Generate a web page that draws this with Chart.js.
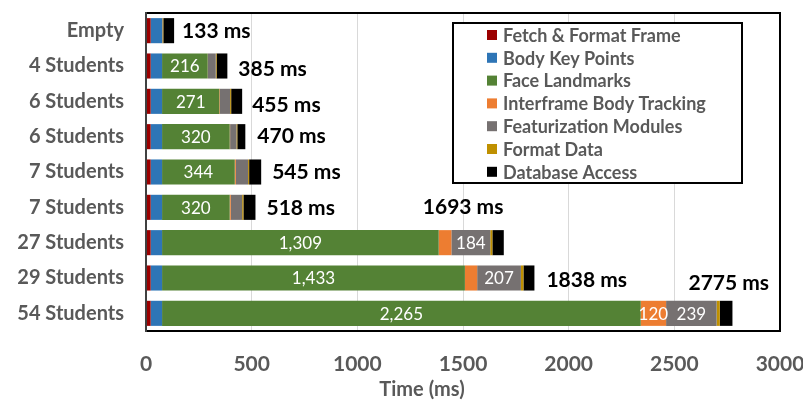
<!DOCTYPE html>
<html>
<head>
<meta charset="utf-8">
<script src="https://cdn.jsdelivr.net/npm/chart.js@4.4.1/dist/chart.umd.min.js"></script>
<style>
  html, body { margin: 0; padding: 0; background: #fff; }
  #wrap { width: 803px; height: 405px; position: relative; }
</style>
</head>
<body>
<div id="wrap"><canvas id="grafico"></canvas></div>
<script>
// Dados (ms)
const categories = ['Empty', '4 Students', '6 Students', '6 Students', '7 Students', '7 Students', '27 Students', '29 Students', '54 Students'];
const fetchFormat = [22, 22, 22, 22, 22, 22, 22, 22, 22];
const bodyKeyPoints = [54, 54, 54, 54, 54, 54, 54, 54, 54];
const faceLandmarks = [0, 216, 271, 320, 344, 320, 1309, 1433, 2265];
const interframe = [0, 1, 3, 2, 5, 5, 60, 58, 120];
const featurization = [2, 37, 48, 30, 58, 54, 184, 207, 239];
const formatData = [4, 4, 5, 4, 5, 6, 10, 12, 15];
const databaseAccess = [51, 51, 52, 38, 57, 57, 54, 52, 60];
const totals = [133, 385, 455, 470, 545, 518, 1693, 1838, 2775];
const xTicks = [0, 500, 1000, 1500, 2000, 2500, 3000];

// posição dos rótulos de total (px, relativo ao fim da barra / centro)
const totalLabelDx = [8, 11, 10, 12, 11, 11, -81, 12, -44];
const totalLabelDy = [1, 3, 4, 0, 0, 1, -35, 2, -30];

const FONT = 'Lato';
const GRAY = '#595959';

const series = [
  { label: 'Fetch & Format Frame', data: fetchFormat, color: '#9b0000' },
  { label: 'Body Key Points', data: bodyKeyPoints, color: '#2e75b6' },
  { label: 'Face Landmarks', data: faceLandmarks, color: '#548235' },
  { label: 'Interframe Body Tracking', data: interframe, color: '#ed7d31' },
  { label: 'Featurization Modules', data: featurization, color: '#767171' },
  { label: 'Format Data', data: formatData, color: '#bf9000' },
  { label: 'Database Access', data: databaseAccess, color: '#000000' }
];

const labelsPlugin = {
  id: 'labelsPlugin',
  afterDatasetsDraw(chart) {
    const ctx = chart.ctx;
    const x = chart.scales.x;
    const y = chart.scales.y;
    ctx.save();
    // valores dentro das barras
    ctx.font = '17px ' + FONT;
    ctx.fillStyle = '#fff';
    ctx.textAlign = 'center';
    ctx.textBaseline = 'middle';
    chart.data.datasets.forEach((ds, di) => {
      const meta = chart.getDatasetMeta(di);
      meta.data.forEach((bar, i) => {
        const v = ds.data[i];
        if (v < 100) return;
        const cx = (bar.x + bar.base) / 2;
        ctx.fillText(v.toLocaleString('en-US'), cx, bar.y + 1);
      });
    });
    // totais
    ctx.font = 'bold 21px ' + FONT;
    ctx.fillStyle = '#000';
    ctx.textAlign = 'left';
    totals.forEach((t, i) => {
      const px = x.getPixelForValue(t) + totalLabelDx[i];
      const py = y.getPixelForValue(i) + totalLabelDy[i];
      ctx.fillText(t + ' ms', px, py);
    });
    ctx.restore();
  },
  afterDraw(chart) {
    const ctx = chart.ctx;
    const a = chart.chartArea;
    ctx.save();
    // moldura da área do gráfico
    ctx.lineWidth = 2;
    ctx.strokeStyle = '#000';
    ctx.beginPath();
    ctx.moveTo(a.left, a.top);
    ctx.lineTo(a.right, a.top);
    ctx.lineTo(a.right, a.bottom);
    ctx.lineTo(a.left, a.bottom);
    ctx.stroke();
    ctx.strokeStyle = '#404040';
    ctx.beginPath();
    ctx.moveTo(a.left, a.top - 1);
    ctx.lineTo(a.left, a.bottom + 1);
    ctx.stroke();

    // título do eixo x
    ctx.font = 'bold 20px ' + FONT;
    ctx.fillStyle = GRAY;
    ctx.textAlign = 'center';
    ctx.textBaseline = 'middle';
    ctx.fillText('Time (ms)', 422, 390);

    // legenda
    const lx = 453, ly = 23, lw = 289, lh = 160;
    ctx.fillStyle = '#fff';
    ctx.fillRect(lx, ly, lw, lh);
    ctx.strokeStyle = '#000';
    ctx.lineWidth = 2;
    ctx.strokeRect(lx, ly, lw, lh);
    ctx.font = 'bold 18px ' + FONT;
    ctx.textAlign = 'left';
    series.forEach((s, i) => {
      const cy = 35 + i * 22.8;
      ctx.fillStyle = s.color;
      ctx.fillRect(487, cy - 5, 10, 10);
      ctx.fillStyle = GRAY;
      ctx.fillText(s.label, 503, cy + 1);
    });
    ctx.restore();
  }
};

new Chart(document.getElementById('grafico').getContext('2d'), {
  type: 'bar',
  data: {
    labels: categories,
    datasets: series.map(s => ({
      label: s.label,
      data: s.data,
      backgroundColor: s.color,
      borderWidth: 0,
      barPercentage: 0.71,
      categoryPercentage: 1
    }))
  },
  options: {
    indexAxis: 'y',
    responsive: true,
    maintainAspectRatio: false,
    animation: false,
    layout: { padding: { top: 13, right: 23, left: 0, bottom: 0 } },
    plugins: {
      legend: { display: false },
      tooltip: { enabled: false }
    },
    scales: {
      x: {
        stacked: true,
        min: 0,
        max: 3000,
        afterBuildTicks(scale) {
          scale.ticks = xTicks.map(v => ({ value: v }));
        },
        afterFit(scale) {
          scale.height = 74;
          scale.paddingLeft = 0;
          scale.paddingRight = 0;
        },
        grid: { color: '#d9d9d9', drawTicks: false },
        border: { display: false },
        ticks: {
          padding: 21,
          color: GRAY,
          font: { family: FONT, size: 21, weight: 'bold' },
          callback: v => String(v)
        }
      },
      y: {
        stacked: true,
        afterFit(scale) {
          scale.width = 146;
          scale.paddingTop = 0;
          scale.paddingBottom = 0;
        },
        grid: { display: false, drawTicks: false },
        border: { display: false },
        ticks: {
          padding: 22,
          color: GRAY,
          font: { family: FONT, size: 20, weight: 'bold' }
        }
      }
    }
  },
  plugins: [labelsPlugin]
});
</script>
</body>
</html>
